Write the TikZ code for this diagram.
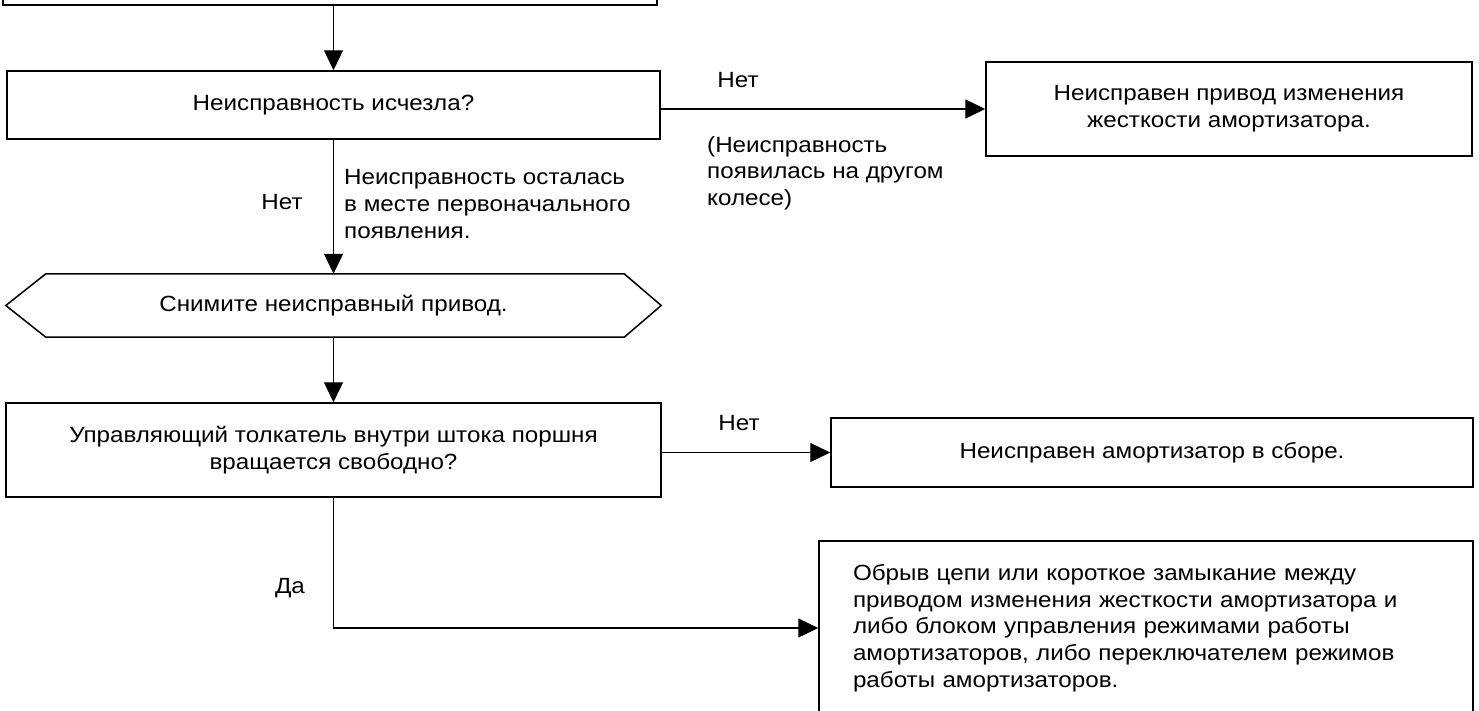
\documentclass[tikz,border=0pt]{standalone}
\usepackage{fontspec}
\setmainfont[FakeStretch=1.1]{Liberation Sans}
\usetikzlibrary{arrows.meta,calc}

\begin{document}
\begin{tikzpicture}[
  x=1pt, y=-1pt,
  font=\fontsize{22pt}{26.7pt}\selectfont,
  box/.style={draw=black,line width=1.5pt,inner sep=0pt,align=center},
  note/.style={inner sep=0pt},
  flow/.style={draw=black,line width=1.3pt,-{Triangle[length=20pt,width=19pt]}}
]
  \useasboundingbox (0,0) rectangle (1479,710);

  \node[box,minimum width=654pt,minimum height=70pt] (top) at (330,-30) {};

  \node[box,minimum width=653pt,minimum height=68pt] (q1) at (333.5,105) {Неисправность исчезла?};
  \node[box,minimum width=486pt,minimum height=94pt] (r1) at (1229,109) {Неисправен привод изменения\\жесткости амортизатора.};

  \node[inner sep=0pt,minimum width=655pt,minimum height=63pt] (act) at (333.5,305.5) {Снимите неисправный привод.};
  \draw[line width=1.5pt] (act.west) -- ($(act.north west)+(40,0)$) -- ($(act.north east)+(-37,0)$)
    -- (act.east) -- ($(act.south east)+(-37,0)$) -- ($(act.south west)+(40,0)$) -- cycle;

  \node[box,minimum width=655pt,minimum height=94pt] (q2) at (333.5,450) {Управляющий толкатель внутри штока поршня\\вращается свободно?};
  \node[box,minimum width=642pt,minimum height=69pt] (r2) at (1152,452.5) {Неисправен амортизатор в сборе.};
  \node[box,minimum width=654pt,minimum height=174pt,text width=586pt,inner xsep=34pt,align=left] (r3) at (1146,628)
    {Обрыв цепи или короткое замыкание между\\приводом изменения жесткости амортизатора и\\либо блоком управления режимами работы\\амортизаторов, либо переключателем режимов\\работы амортизаторов.};

  \node[note] (no1) at (738,80) {Нет};
  \node[note,align=left,anchor=west] (why1) at (707,173) {(Неисправность\\появилась на другом\\колесе)};
  \node[note] (no2) at (282,202) {Нет};
  \node[note,align=left,anchor=west] (why2) at (344,204) {Неисправность осталась\\в месте первоначального\\появления.};
  \node[note] (no3) at (739,423) {Нет};
  \node[note] (yes) at (290,588) {Да};

  \draw[flow] (q1.north |- top.south) -- (q1.north);
  \draw[flow] (q1.east |- r1.west) -- (r1.west);
  \draw[flow] (q1.south) -- (act.north);
  \draw[flow] (act.south) -- (q2.north);
  \draw[flow] (q2.east |- r2.west) -- (r2.west);
  \draw[flow] (q2.south) |- (r3.west);
\end{tikzpicture}
\end{document}
